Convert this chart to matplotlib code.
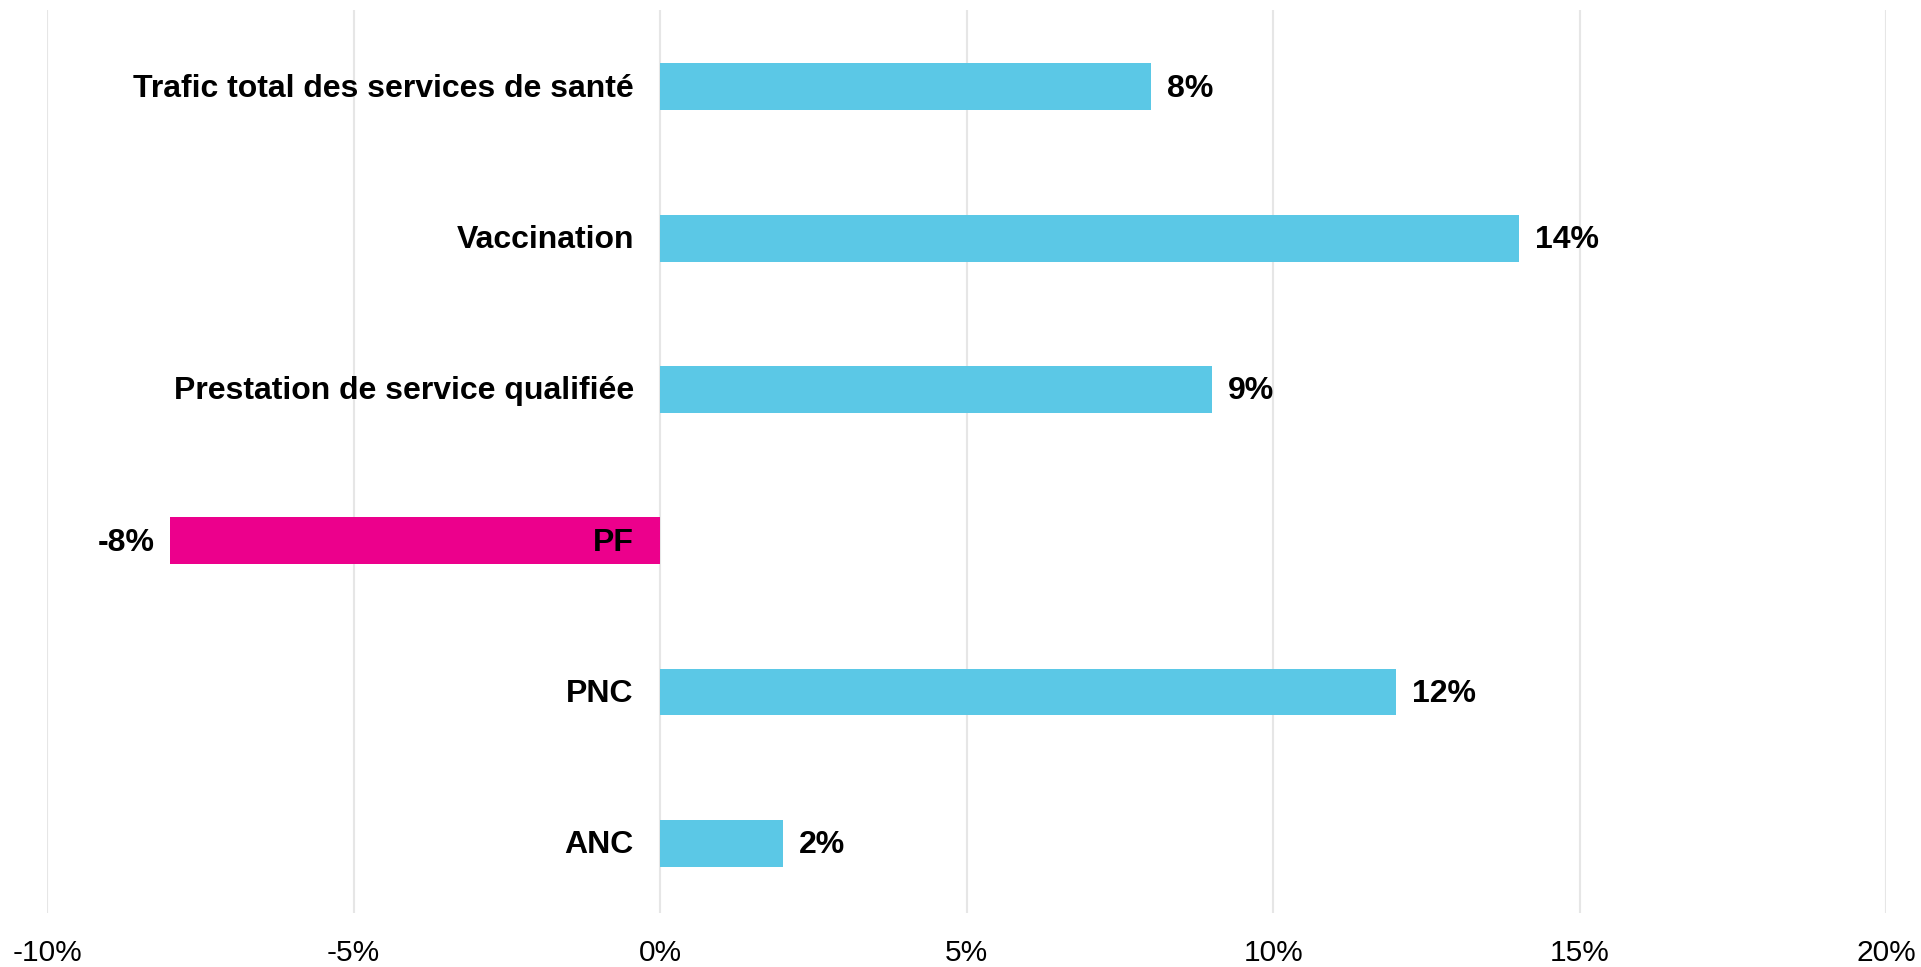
"""Variation des services de santé, barres horizontales"""
import matplotlib.pyplot as plt
from matplotlib.ticker import FuncFormatter

plt.rcParams['font.family'] = ['Liberation Sans', 'DejaVu Sans']

# Categories listed bottom to top, with their change in percent
categories = ["ANC", "PNC", "PF", "Prestation de service qualifiée",
              "Vaccination", "Trafic total des services de santé"]
values = [2, 12, -8, 9, 14, 8]

pos_color = "#5BC8E6"
neg_color = "#EC008C"

fig = plt.figure(figsize=(19.21, 9.67), dpi=100)
ax = fig.add_axes([0.0245, 0.056, 0.9575, 0.934])

y = range(len(categories))
colors = [neg_color if v < 0 else pos_color for v in values]
ax.barh(y, values, height=0.31, color=colors, zorder=3)

for yi, name, v in zip(y, categories, values):
    # category name sits just left of the zero line
    ax.annotate(name, xy=(0, yi), xytext=(-19, -1.5), textcoords="offset points",
                ha="right", va="center", fontsize=23, fontweight="bold", zorder=4)
    # value label at the end of the bar
    off = 11.5 if v >= 0 else -11
    ax.annotate(f"{v}%", xy=(v, yi), xytext=(off, -1.5), textcoords="offset points",
                ha="left" if v >= 0 else "right", va="center",
                fontsize=23, fontweight="bold", zorder=4)

ax.set_xlim(-10, 20)
ax.set_ylim(-0.46, 5.51)
ax.set_xticks(range(-10, 21, 5))
ax.xaxis.set_major_formatter(FuncFormatter(lambda x, _: f"{x:.0f}%"))
ax.set_yticks([])
ax.tick_params(axis="x", length=0, pad=19, labelsize=21.5)
ax.grid(axis="x", color="#E6E6E6", linewidth=1.5, zorder=0)
for s in ax.spines.values():
    s.set_visible(False)

plt.savefig("out.png", dpi=100)
